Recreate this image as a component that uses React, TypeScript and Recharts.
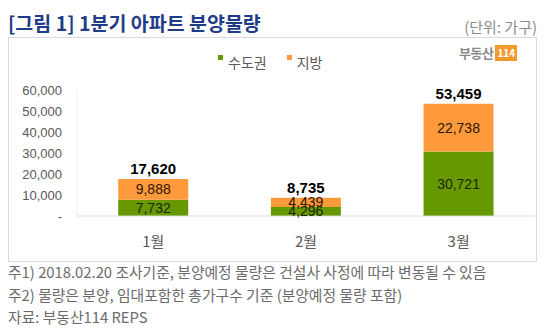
import React from 'react';
import { BarChart, Bar, XAxis, YAxis, LabelList } from 'recharts';

const months = ['1월', '2월', '3월'];
const capitalArea = [7732, 4296, 30721];
const regions = [9888, 4439, 22738];
const totals = [17620, 8735, 53459];
const yTicks = [0, 10000, 20000, 30000, 40000, 50000, 60000];

const GREEN = '#669900';
const ORANGE = '#ff9a3c';
const KFONT = '"Noto Sans CJK KR", "Noto Sans", sans-serif';
const NFONT = '"Liberation Sans", Arial, sans-serif';

const data = months.map((m, i) => ({
  month: m,
  capital: capitalArea[i],
  region: regions[i],
  total: totals[i],
}));

const fmt = (v: number) => (v === 0 ? '-' : v.toLocaleString('en-US'));

export default function App() {
  return (
    <div
      style={{
        position: 'absolute',
        left: 0,
        top: 0,
        width: 550,
        height: 334,
        background: '#fff',
        fontFamily: KFONT,
      }}
    >
      {/* title + unit */}
      <div style={{ position: 'absolute', left: 8, top: 9, fontSize: 19.5, fontWeight: 700, color: '#1f3c88', lineHeight: '28px' }}>
        [그림 1] 1분기 아파트 분양물량
      </div>
      <div style={{ position: 'absolute', right: 13, top: 16, fontSize: 15, color: '#8c8c8c', lineHeight: '22px' }}>
        (단위: 가구)
      </div>

      {/* frame */}
      <div
        style={{
          position: 'absolute',
          left: 8,
          top: 37,
          width: 529,
          height: 225,
          border: '1px solid #d9d9d9',
          boxSizing: 'border-box',
        }}
      />

      {/* logo */}
      <div style={{ position: 'absolute', left: 459, top: 43, display: 'flex', alignItems: 'center' }}>
        <span style={{ fontSize: 13, fontWeight: 700, color: '#8a8a8a', letterSpacing: -0.5 }}>부동산</span>
        <span
          style={{
            marginLeft: 2,
            background: '#f29a2e',
            color: '#fff',
            fontSize: 10,
            fontWeight: 700,
            padding: '1px 2px',
            lineHeight: '14px',
          }}
        >
          114
        </span>
      </div>

      {/* legend */}
      <div style={{ position: 'absolute', left: 218, top: 52, display: 'flex', fontSize: 14, color: '#595959', lineHeight: '20px' }}>
        <span style={{ width: 5, height: 5, background: GREEN, marginTop: 3, marginRight: 5 }} />
        <span>수도권</span>
        <span style={{ width: 5, height: 5, background: ORANGE, marginTop: 3, marginLeft: 20, marginRight: 5 }} />
        <span>지방</span>
      </div>

      <div style={{ position: 'absolute', left: 0, top: 0 }}>
        <BarChart
          width={550}
          height={334}
          data={data}
          margin={{ top: 90, right: 15, bottom: 88, left: 17 }}
          barCategoryGap="27%"
        >
          <XAxis
            dataKey="month"
            axisLine={{ stroke: '#d9d9d9' }}
            tickLine={false}
            tickSize={0}
            tickMargin={20}
            height={30}
            tick={{ fill: '#595959', fontSize: 15, fontFamily: KFONT }}
          />
          <YAxis
            domain={[0, 60000]}
            ticks={yTicks}
            tickFormatter={fmt}
            width={60}
            axisLine={{ stroke: '#efefef' }}
            tickLine={false}
            tickSize={0}
            tickMargin={15}
            tick={{ fill: '#595959', fontSize: 13, fontFamily: NFONT }}
          />
          <Bar dataKey="capital" stackId="a" fill={GREEN} isAnimationActive={false}>
            <LabelList
              dataKey="capital"
              position="center"
              formatter={(v: number) => v.toLocaleString('en-US')}
              style={{ fill: '#1c2600', fontSize: 14, fontFamily: NFONT }}
            />
          </Bar>
          <Bar dataKey="region" stackId="a" fill={ORANGE} isAnimationActive={false}>
            <LabelList
              dataKey="region"
              position="center"
              formatter={(v: number) => v.toLocaleString('en-US')}
              style={{ fill: '#2e1500', fontSize: 14, fontFamily: NFONT }}
            />
            <LabelList
              dataKey="total"
              position="top"
              offset={5}
              formatter={(v: number) => v.toLocaleString('en-US')}
              style={{ fill: '#000', fontSize: 15, fontWeight: 700, fontFamily: NFONT }}
            />
          </Bar>
        </BarChart>
      </div>

      {/* notes */}
      <div style={{ position: 'absolute', left: 8, top: 261, fontSize: 14.8, color: '#6b6b6b', lineHeight: '22.5px', whiteSpace: 'nowrap' }}>
        <div>주1) 2018.02.20 조사기준, 분양예정 물량은 건설사 사정에 따라 변동될 수 있음</div>
        <div>주2) 물량은 분양, 임대포함한 총가구수 기준 (분양예정 물량 포함)</div>
        <div>자료: 부동산114 REPS</div>
      </div>
    </div>
  );
}
